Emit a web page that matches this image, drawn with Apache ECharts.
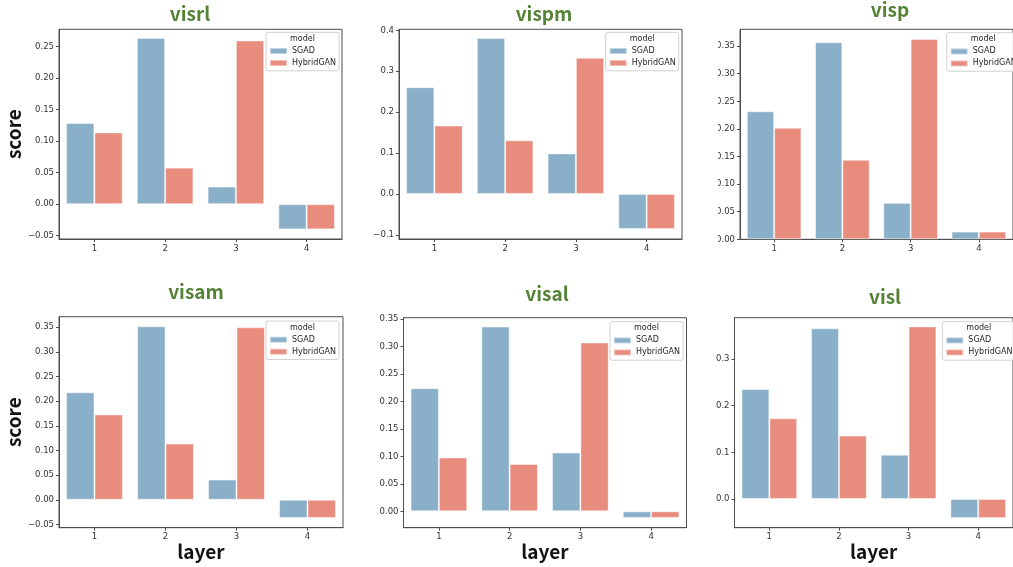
<!DOCTYPE html>
<html>
<head>
<meta charset="utf-8">
<script src="https://cdn.jsdelivr.net/npm/echarts@6/dist/echarts.min.js"></script>
<style>
html,body{margin:0;padding:0;background:#fff;}
#chart{width:1013px;height:567px;}
</style>
</head>
<body>
<div id="chart"></div>
<script>
// ---- data ----
const panelTitles = ['visrl', 'vispm', 'visp', 'visam', 'visal', 'visl'];
const categories = ['1', '2', '3', '4'];
const seriesNames = ['SGAD', 'HybridGAN'];

const sgadVisrl   = [0.129, 0.264, 0.028, -0.040];
const hybridVisrl = [0.114, 0.058, 0.260, -0.040];
const sgadVispm   = [0.261, 0.381, 0.099, -0.086];
const hybridVispm = [0.167, 0.131, 0.333, -0.086];
const sgadVisp    = [0.232, 0.357, 0.066, 0.014];
const hybridVisp  = [0.202, 0.144, 0.363, 0.014];
const sgadVisam   = [0.218, 0.352, 0.041, -0.037];
const hybridVisam = [0.173, 0.114, 0.350, -0.037];
const sgadVisal   = [0.224, 0.336, 0.107, -0.012];
const hybridVisal = [0.098, 0.086, 0.307, -0.012];
const sgadVisl    = [0.236, 0.366, 0.095, -0.041];
const hybridVisl  = [0.173, 0.136, 0.370, -0.041];

const ticksVisrl = [-0.05, 0, 0.05, 0.10, 0.15, 0.20, 0.25];
const ticksVispm = [-0.1, 0, 0.1, 0.2, 0.3, 0.4];
const ticksVisp  = [0, 0.05, 0.10, 0.15, 0.20, 0.25, 0.30, 0.35];
const ticksVisam = [-0.05, 0, 0.05, 0.10, 0.15, 0.20, 0.25, 0.30, 0.35];
const ticksVisal = [0, 0.05, 0.10, 0.15, 0.20, 0.25, 0.30, 0.35];
const ticksVisl  = [0, 0.1, 0.2, 0.3];
const tickDecimals = [2, 1, 2, 2, 2, 1];

const yLimitsVisrl = [-0.0553, 0.2777];
const yLimitsVispm = [-0.1103, 0.4025];
const yLimitsVisp  = [0, 0.3805];
const yLimitsVisam = [-0.0567, 0.3714];
const yLimitsVisal = [-0.0298, 0.3522];
const yLimitsVisl  = [-0.0616, 0.3887];

const sgadData = [sgadVisrl, sgadVispm, sgadVisp, sgadVisam, sgadVisal, sgadVisl];
const hybridData = [hybridVisrl, hybridVispm, hybridVisp, hybridVisam, hybridVisal, hybridVisl];
const tickData = [ticksVisrl, ticksVispm, ticksVisp, ticksVisam, ticksVisal, ticksVisl];
const yLimits = [yLimitsVisrl, yLimitsVispm, yLimitsVisp, yLimitsVisam, yLimitsVisal, yLimitsVisl];

// ---- layout ----
const grids = [
  {left: 59,    top: 29.3,  width: 283,   height: 209.7},
  {left: 399,   top: 29.3,  width: 283,   height: 209.7},
  {left: 740,   top: 29.3,  width: 282.5, height: 210},
  {left: 59,    top: 316.7, width: 284,   height: 211},
  {left: 403.5, top: 317.7, width: 283,   height: 210},
  {left: 734.5, top: 317.7, width: 284,   height: 210}
];
const titlePos = [[190, 4], [544, 4], [890, 0], [196, 282], [547, 284], [885, 287]];
const legendBox = [[266, 32.3], [605.7, 32.3], [946.7, 32.7], [266, 321], [610, 321.7], [942.3, 321.7]];

const SGAD_COLOR = '#8aafc8';
const HYB_COLOR = '#e88c7e';
const FRAME = '#4d4d4d';
const TICK_FONT = 'DejaVu Sans';
const BIG_FONT = '"Noto Sans CJK SC", "Noto Sans", sans-serif';

const option = {
  animation: false,
  backgroundColor: '#ffffff',
  title: [], grid: [], xAxis: [], yAxis: [], series: [], legend: [], graphic: []
};

panelTitles.forEach((name, i) => {
  const g = grids[i];
  const col = i % 3, row = Math.floor(i / 3);
  option.title.push({
    text: name, left: titlePos[i][0], top: titlePos[i][1], textAlign: 'center', padding: 0,
    textStyle: {fontFamily: BIG_FONT, fontSize: 19, fontWeight: 'bold', color: '#548235'}
  });
  option.grid.push({
    left: g.left, top: g.top, width: g.width, height: g.height,
    show: true, borderColor: FRAME, borderWidth: 1, backgroundColor: 'transparent'
  });
  option.xAxis.push({
    type: 'category', gridIndex: i, data: categories,
    name: row === 1 ? 'layer' : '', nameLocation: 'middle', nameGap: 14,
    nameTextStyle: {fontFamily: BIG_FONT, fontSize: 19, fontWeight: 'bold', color: '#111'},
    axisLine: {show: true, onZero: false, lineStyle: {color: FRAME, width: 1}},
    axisTick: {show: true, alignWithLabel: true, length: 3, lineStyle: {color: FRAME}},
    axisLabel: {fontFamily: TICK_FONT, fontSize: 8.5, color: '#333', margin: 5},
    splitLine: {show: false}
  });
  const dec = tickDecimals[i];
  option.yAxis.push({
    type: 'value', gridIndex: i, min: yLimits[i][0], max: yLimits[i][1],
    name: col === 0 ? 'score' : '', nameLocation: 'middle', nameGap: 36,
    nameTextStyle: {fontFamily: BIG_FONT, fontSize: 19, fontWeight: 'bold', color: '#111'},
    axisLine: {show: true, onZero: false, lineStyle: {color: FRAME, width: 1}},
    axisTick: {show: true, length: 3, customValues: tickData[i], lineStyle: {color: FRAME}},
    axisLabel: {
      fontFamily: TICK_FONT, fontSize: 8.5, color: '#333', margin: 5,
      customValues: tickData[i],
      formatter: v => {
        const s = Math.abs(v).toFixed(dec);
        return (v < -1e-9 ? '\u2212' : '') + s;
      }
    },
    splitLine: {show: false}
  });
  option.series.push({
    name: seriesNames[0], type: 'bar', xAxisIndex: i, yAxisIndex: i, data: sgadData[i],
    barWidth: '40%', barGap: '0%',
    itemStyle: {color: SGAD_COLOR, borderColor: 'rgba(255,255,255,0.45)', borderWidth: 1}
  });
  option.series.push({
    name: seriesNames[1], type: 'bar', xAxisIndex: i, yAxisIndex: i, data: hybridData[i],
    barWidth: '40%', barGap: '0%',
    itemStyle: {color: HYB_COLOR, borderColor: 'rgba(255,255,255,0.45)', borderWidth: 1}
  });
  const [bx, by] = legendBox[i];
  option.graphic.push({
    type: 'rect', z: 3, shape: {x: bx, y: by, width: 73, height: 38.5, r: 2},
    style: {fill: 'rgba(255,255,255,0.85)', stroke: '#d0d0d0', lineWidth: 1}
  });
  option.graphic.push({
    type: 'text', z: 5, x: bx + 36.5, y: by + 6.7,
    style: {text: 'model', fontFamily: TICK_FONT, fontSize: 8, fill: '#262626', align: 'center', verticalAlign: 'middle'}
  });
  option.legend.push({
    data: seriesNames, orient: 'vertical', left: bx + 3, top: by + 13.7, padding: 0,
    itemWidth: 17, itemHeight: 6, itemGap: 2, icon: 'rect',
    textStyle: {fontFamily: TICK_FONT, fontSize: 8, color: '#262626', lineHeight: 10}
  });
});

// panel 3 image is cropped on its left: the leading digit of its tick labels is cut
option.graphic.push({
  type: 'rect', z: 10, shape: {x: 696, y: 25, width: 22, height: 225},
  style: {fill: '#ffffff'}
});

const chart = echarts.init(document.getElementById('chart'), null, {renderer: 'canvas'});
chart.setOption(option);
</script>
</body>
</html>
